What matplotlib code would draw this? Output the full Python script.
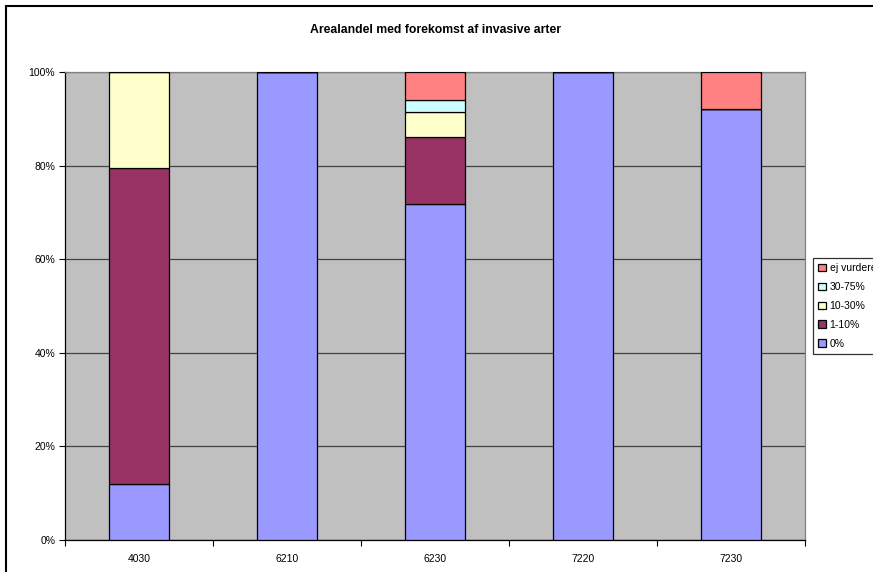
import numpy as np
import matplotlib.pyplot as plt
from matplotlib.patches import Rectangle

plt.rcParams['font.family'] = ['Liberation Sans', 'DejaVu Sans']

# Naturtyper og arealandele (%) pr. klasse
habitater = ['4030', '6210', '6230', '7220', '7230']
klasser = ['0%', '1-10%', '10-30%', '30-75%', 'ej vurderet']
andel_0 = [12.0, 100.0, 71.8, 100.0, 92.0]
andel_1_10 = [67.4, 0.0, 14.3, 0.0, 0.0]
andel_10_30 = [20.6, 0.0, 5.3, 0.0, 0.0]
andel_30_75 = [0.0, 0.0, 2.6, 0.0, 0.0]
andel_ej = [0.0, 0.0, 6.0, 0.0, 8.0]
farver = ['#9999FF', '#993366', '#FFFFCC', '#CCFFFF', '#FF8080']

serier = [andel_0, andel_1_10, andel_10_30, andel_30_75, andel_ej]

fig = plt.figure(figsize=(8.73, 5.72), dpi=100)
W, H = 873, 572
ax = fig.add_axes([65 / W, 1 - 540 / H, 740 / W, 468 / H])
ax.set_facecolor('#C0C0C0')

x = np.arange(len(habitater))
bund = np.zeros(len(habitater))
for navn, vals, farve in zip(klasser, serier, farver):
    vals = np.array(vals)
    ax.bar(x, vals, width=0.405, bottom=bund, color=farve, edgecolor='black',
           linewidth=0.9, label=navn, zorder=3)
    bund += vals

ax.set_xlim(-0.5, len(habitater) - 0.5)
ax.set_ylim(0, 100)
ax.set_yticks(np.arange(0, 101, 20))
ax.set_yticklabels([f'{v}%' for v in range(0, 101, 20)], fontsize=7.5)
ax.set_xticks(x)
ax.set_xticklabels(habitater, fontsize=7.5)
ax.set_xticks(np.arange(-0.5, len(habitater), 1), minor=True)
ax.tick_params(axis='x', which='major', length=0, pad=10)
ax.tick_params(axis='x', which='minor', length=4, width=0.8, direction='out')
ax.tick_params(axis='y', length=4, width=0.8, direction='out', pad=3)
ax.yaxis.grid(True, color='#444444', linewidth=0.9, zorder=1)
ax.set_axisbelow(True)
for side in ['top', 'right']:
    ax.spines[side].set_color('#808080')
    ax.spines[side].set_linewidth(0.9)
for side in ['left', 'bottom']:
    ax.spines[side].set_color('black')
    ax.spines[side].set_linewidth(0.9)

fig.text(436 / W, 1 - 30 / H, 'Arealandel med forekomst af invasive arter',
         ha='center', va='center', fontsize=8.8, fontweight='bold')

# ramme om hele diagrammet
fig.patches.append(Rectangle((6 / W, -0.1), 1.2, 1 - 6 / H + 0.1,
                             transform=fig.transFigure, fill=False,
                             edgecolor='black', linewidth=1.5))

# forklaringen går ud over kanten af figuren
handles, labels = ax.get_legend_handles_labels()
leg = fig.legend(handles[::-1], labels[::-1], loc='upper left',
                 bbox_to_anchor=(813 / W, 1 - 258 / H), fontsize=7.5,
                 frameon=True, fancybox=False, edgecolor='black',
                 handlelength=0.7, handleheight=0.7, handletextpad=0.4,
                 labelspacing=0.85, borderpad=0.5, borderaxespad=0)
leg.get_frame().set_linewidth(0.9)

fig.savefig('out.png', dpi=100)
